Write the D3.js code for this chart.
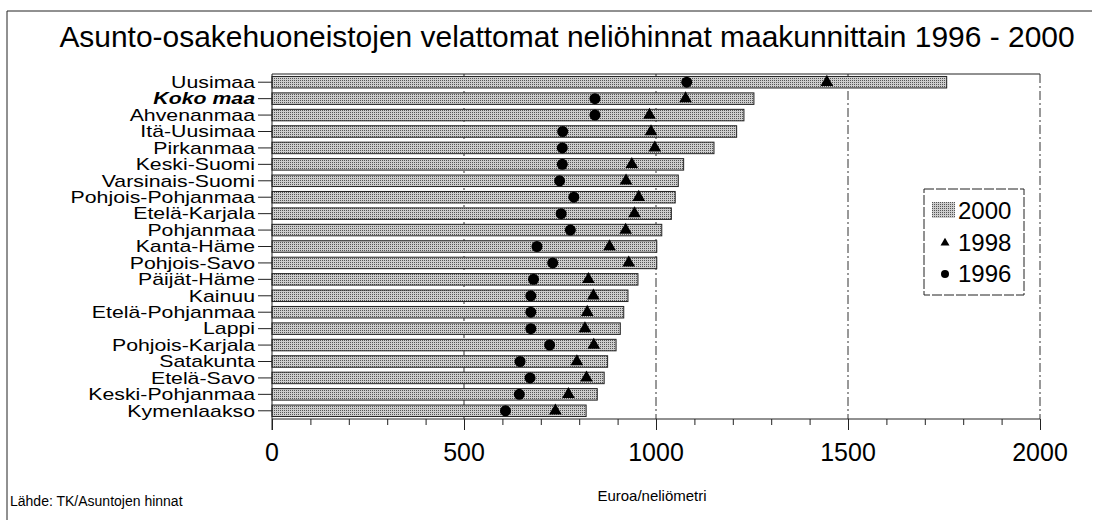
<!DOCTYPE html>
<html><head><meta charset="utf-8">
<script src="https://cdn.jsdelivr.net/npm/d3@7"></script>
<style>
body{margin:0;background:#fff;}
svg{display:block;font-family:"Liberation Sans",Arial,sans-serif;}
</style></head>
<body>
<svg id="c" width="1099" height="520"></svg>
<script>
const categories = ["Uusimaa","Koko maa","Ahvenanmaa","Itä-Uusimaa","Pirkanmaa","Keski-Suomi","Varsinais-Suomi","Pohjois-Pohjanmaa","Etelä-Karjala","Pohjanmaa","Kanta-Häme","Pohjois-Savo","Päijät-Häme","Kainuu","Etelä-Pohjanmaa","Lappi","Pohjois-Karjala","Satakunta","Etelä-Savo","Keski-Pohjanmaa","Kymenlaakso"];
const values2000 = [1757,1255,1229,1210,1151,1072,1058,1050,1040,1015,1002,1002,953,927,916,907,896,874,865,847,818];
const values1998 = [1445,1077,983,987,997,937,922,955,944,921,879,929,824,837,821,815,838,794,819,772,738];
const values1996 = [1080,841,841,757,756,756,749,786,753,777,690,731,681,674,674,674,723,646,672,644,608];
const xTicks = [0,500,1000,1500,2000];
const legendLabels = ["2000","1998","1996"];
const titleText = "Asunto-osakehuoneistojen velattomat neliöhinnat maakunnittain 1996 - 2000";
const xTitle = "Euroa/neliömetri";
const sourceText = "Lähde: TK/Asuntojen hinnat";

const svg = d3.select("#c");
const L = 272, R = 1040, T = 74, B = 419;

// pattern
const defs = svg.append("defs");
const pat = defs.append("pattern").attr("id","dots").attr("width",2).attr("height",2).attr("patternUnits","userSpaceOnUse");
pat.append("rect").attr("width",2).attr("height",2).attr("fill","#cdcdcd");
pat.append("rect").attr("x",0).attr("y",0).attr("width",1).attr("height",1).attr("fill","#555");

// outer frame
svg.append("line").attr("x1",7).attr("x2",1092).attr("y1",11).attr("y2",11).attr("stroke","#222").attr("stroke-width",1);
svg.append("line").attr("x1",7).attr("x2",7).attr("y1",11).attr("y2",520).attr("stroke","#222").attr("stroke-width",1);

// title
const title = svg.append("text").attr("x",567).attr("y",47).attr("text-anchor","middle")
  .attr("font-size",23).attr("fill","#000").text(titleText);
const tw = title.node().getComputedTextLength();
title.attr("font-size", 23*1016/tw);

const x = d3.scaleLinear().domain([0,2000]).range([L,R]);
const y = d3.scaleBand().domain(categories).range([T,B]).paddingInner(0.3).paddingOuter(0.15);

// grid lines
const g = svg.append("g");
g.selectAll("line.grid").data([500,1000,1500]).join("line")
  .attr("x1",d=>x(d)).attr("x2",d=>x(d)).attr("y1",T).attr("y2",B)
  .attr("stroke","#333").attr("stroke-width",1).attr("stroke-dasharray","9,3,2,3");
// plot frame top & right
svg.append("line").attr("x1",L).attr("x2",R).attr("y1",T).attr("y2",T).attr("stroke","#222");
svg.append("line").attr("x1",R).attr("x2",R).attr("y1",T).attr("y2",B).attr("stroke","#333").attr("stroke-dasharray","9,3,2,3");

// bars
const rows = categories.map((c,i)=>({c, v0:values2000[i], v8:values1998[i], v6:values1996[i]}));
svg.append("g").selectAll("rect").data(rows).join("rect")
  .attr("x",x(0)).attr("y",d=>y(d.c)).attr("width",d=>x(d.v0)-x(0)).attr("height",y.bandwidth())
  .attr("fill","url(#dots)").attr("stroke","#222").attr("stroke-width",1);

// markers
svg.append("g").selectAll("circle").data(rows).join("circle")
  .attr("cx",d=>x(d.v6)).attr("cy",d=>y(d.c)+y.bandwidth()/2).attr("r",5.5).attr("fill","#000");
const tri = d3.symbol().type(d3.symbolTriangle).size(70);
svg.append("g").selectAll("path").data(rows).join("path")
  .attr("transform",d=>`translate(${x(d.v8)},${y(d.c)+y.bandwidth()/2})`).attr("d",tri).attr("fill","#000");

// y axis
const sx = 1.33;
const yAxis = svg.append("g").attr("transform",`translate(${L},0)`).call(d3.axisLeft(y).tickSize(14).tickPadding(3));
yAxis.select(".domain").remove();
yAxis.append("line").attr("x1",0).attr("x2",0).attr("y1",T).attr("y2",B+11).attr("stroke","#222");
yAxis.selectAll(".tick line").attr("stroke","#222");
yAxis.selectAll(".tick text").attr("font-size",16).attr("fill","#000").attr("font-family","'Liberation Sans',Arial,sans-serif")
  .attr("dy","0.36em").attr("x",-17/sx).attr("transform",`scale(${sx},1)`)
  .attr("font-weight",d=>d==="Koko maa"?"bold":"normal").attr("font-style",d=>d==="Koko maa"?"italic":"normal");

// x axis
const xAxis = svg.append("g").attr("transform",`translate(0,${B})`)
  .call(d3.axisBottom(x).tickValues(d3.range(0,2001,100)).tickSize(6).tickFormat(""));
xAxis.select(".domain").attr("d",`M${L},0H${R}`).attr("stroke","#222");
xAxis.selectAll(".tick line").attr("stroke","#222").attr("y2",d=>d%500===0?11:6);
svg.append("g").selectAll("text").data(xTicks).join("text")
  .attr("x",d=>x(d)).attr("y",461).attr("text-anchor","middle").attr("font-size",25).attr("fill","#000").text(d=>d);

// axis title & source
svg.append("text").attr("x",652).attr("y",501).attr("text-anchor","middle").attr("font-size",15).attr("fill","#000").text(xTitle);
svg.append("text").attr("x",10).attr("y",506).attr("font-size",14).attr("fill","#000").text(sourceText);

// legend
const lg = svg.append("g");
lg.append("rect").attr("x",924).attr("y",189).attr("width",100).attr("height",106).attr("fill","#fff").attr("stroke","#222").attr("stroke-dasharray","10,2");
const ly = [210,242,273];
lg.append("rect").attr("x",932).attr("y",ly[0]-8).attr("width",23).attr("height",16).attr("fill","url(#dots)");
lg.append("path").attr("transform",`translate(945,${ly[1]+1})`).attr("d",d3.symbol().type(d3.symbolTriangle).size(35)).attr("fill","#000");
lg.append("circle").attr("cx",945).attr("cy",ly[2]+1).attr("r",4).attr("fill","#000");
lg.selectAll("text").data(legendLabels).join("text")
  .attr("x",958).attr("y",(d,i)=>ly[i]+9).attr("font-size",24).attr("fill","#000").text(d=>d);
</script>
</body></html>
